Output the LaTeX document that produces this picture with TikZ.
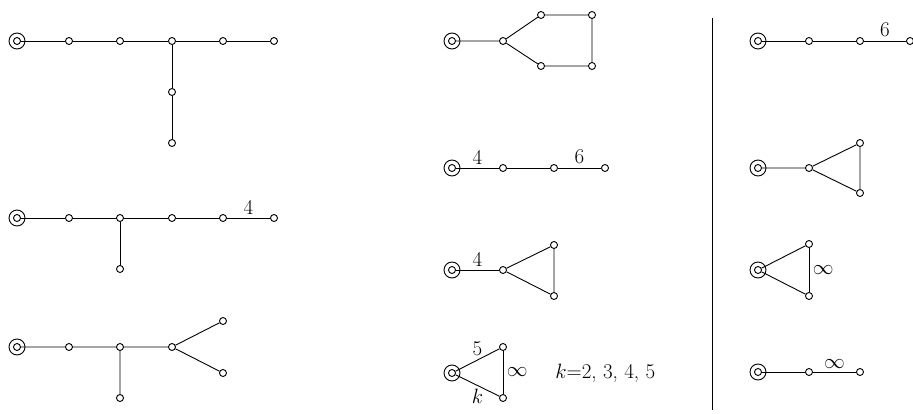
\documentclass[tikz,border=0pt]{standalone}
\usepackage{tikz}

\begin{document}
\begin{tikzpicture}[x=1pt,y=-1pt,line width=0.9pt,
 font=\fontsize{21}{25}\selectfont,
 vx/.style={circle,draw,fill=white,inner sep=0pt,minimum size=7pt},
 rt/.style={vx,label={[circle,draw,inner sep=0pt,minimum size=16pt]center:{}}},
 lbl/.style={inner sep=3.5pt}]
\useasboundingbox (0,0) rectangle (913,414);
% left column
\node[rt] (a0) at (17,41) {};
\foreach \i/\x in {1/69,2/120,3/172,4/223,5/274} \node[vx] (a\i) at (\x,41) {};
\node[vx] (a6) at (172,92) {};
\node[vx] (a7) at (172,143) {};
\draw (a0)--(a1)--(a2)--(a3)--(a4)--(a5) (a3)--(a6)--(a7);

\node[rt] (b0) at (17,218) {};
\foreach \i/\x in {1/69,2/120,3/172,4/223,5/274} \node[vx] (b\i) at (\x,218) {};
\node[vx] (b6) at (120,269) {};
\draw (b0)--(b1)--(b2)--(b3)--(b4) (b2)--(b6);
\draw (b4)--(b5) node[midway,above,lbl] {4};

\node[rt] (c0) at (17,347) {};
\foreach \i/\x in {1/69,2/120,3/172} \node[vx] (c\i) at (\x,347) {};
\node[vx] (c4) at (120,398) {};
\node[vx] (c5) at (223,321) {};
\node[vx] (c6) at (223,373) {};
\draw (c0)--(c1)--(c2)--(c3)--(c5) (c3)--(c6) (c2)--(c4);

% middle column
\node[rt] (d0) at (452,41) {};
\node[vx] (d1) at (503,41) {};
\node[vx] (d2) at (541,15) {};
\node[vx] (d3) at (592,15) {};
\node[vx] (d4) at (541,66) {};
\node[vx] (d5) at (592,66) {};
\draw (d0)--(d1)--(d2)--(d3)--(d5)--(d4)--(d1);

\node[rt] (e0) at (452,168) {};
\foreach \i/\x in {1/503,2/554,3/605} \node[vx] (e\i) at (\x,168) {};
\draw (e0)--(e1) node[midway,above,lbl] {4};
\draw (e1)--(e2);
\draw (e2)--(e3) node[midway,above,lbl] {6};

\node[rt] (f0) at (452,270) {};
\node[vx] (f1) at (503,270) {};
\node[vx] (f2) at (554,245) {};
\node[vx] (f3) at (554,296) {};
\draw (f0)--(f1) node[midway,above,lbl] {4};
\draw (f1)--(f2)--(f3)--(f1);

\node[rt] (g0) at (452,373) {};
\node[vx] (g1) at (503,347) {};
\node[vx] (g2) at (503,398) {};
\draw (g0)--(g1) node[midway,above,lbl] {5};
\draw (g1)--(g2) node[midway,right] {$\infty$};
\draw (g2)--(g0) node[midway,below,lbl] {$k$};
\node[anchor=west,inner sep=0pt] (kval) at (555,373) {$k$=2, 3, 4, 5};

% separator
\coordinate (st) at (712.5,18);
\coordinate (sb) at (712.5,410);
\draw (st)--(sb);

% right column
\node[rt] (h0) at (758,41) {};
\foreach \i/\x in {1/809,2/860,3/910} \node[vx] (h\i) at (\x,41) {};
\draw (h0)--(h1)--(h2);
\draw (h2)--(h3) node[midway,above,lbl] {6};

\node[rt] (i0) at (758,168) {};
\node[vx] (i1) at (809,168) {};
\node[vx] (i2) at (860,143) {};
\node[vx] (i3) at (860,193) {};
\draw (i0)--(i1)--(i2)--(i3)--(i1);

\node[rt] (j0) at (758,270) {};
\node[vx] (j1) at (809,244) {};
\node[vx] (j2) at (809,296) {};
\draw (j0)--(j1);
\draw (j1)--(j2) node[midway,right] {$\infty$};
\draw (j2)--(j0);

\node[rt] (m0) at (758,372) {};
\node[vx] (m1) at (809,372) {};
\node[vx] (m2) at (860,372) {};
\draw (m0)--(m1);
\draw (m1)--(m2) node[midway,above,lbl] {$\infty$};
\end{tikzpicture}
\end{document}
